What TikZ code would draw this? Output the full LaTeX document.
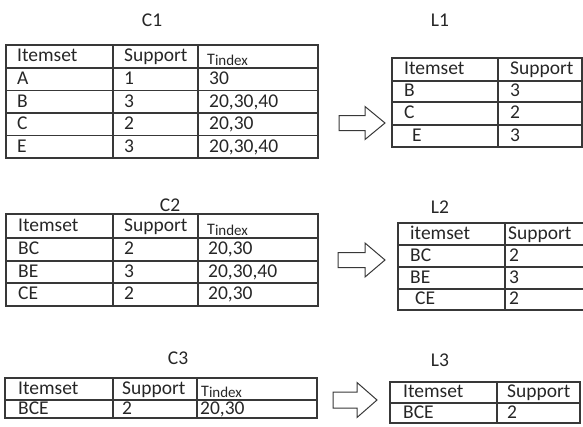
\documentclass[tikz,border=0pt]{standalone}
\usepackage{fontspec}
\setmainfont{Carlito}
\usetikzlibrary{positioning}

\newcommand{\Tidx}{{\fontsize{16}{16}\selectfont T}\raisebox{-0.5pt}{\fontsize{15}{15}\selectfont index}}

\begin{document}
\begin{tikzpicture}[%
            x=1pt, y=-1pt,
            grid/.style={draw=black!78, line width=1.1pt},
            cell/.style={anchor=base west, inner sep=0pt, text=black!85, font=\fontsize{19.5}{22}\selectfont},
            title/.style={anchor=base, inner sep=0pt, text=black!85, font=\fontsize{19.5}{22}\selectfont},
            bigarrow/.style={draw=black!78, line width=1pt, fill=white}
            ]
            \useasboundingbox (0,0) rectangle (583,426);

            % C1
            \node[title] (c1) at (152,26) {C1};
            \draw[grid] (6,45) rectangle (318,158);
            \draw[grid] (113,45) -- (113,158) (198,45) -- (198,158);
            \foreach \y in {68,90.5,113,135.5} {\draw[grid] (6,\y) -- (318,\y);}
            \node[cell] (c1-h1) at (17,61.5) {Itemset};
            \node[cell] (c1-h2) at (124,61.5) {Support};
            \node[cell] (c1-h3) at (207,64.5) {\Tidx};
            \foreach \i/\y/\a/\b/\c in {1/84.5/A/1/30, 2/107/B/3/{20,30,40}, 3/129.5/C/2/{20,30}, 4/152/E/3/{20,30,40}} {
                \node[cell] (c1-\i-a) at (17,\y) {\a};
                \node[cell] (c1-\i-b) at (124,\y) {\b};
                \node[cell] (c1-\i-c) at (209,\y) {\c};
            }

            % L1
            \node[title] (l1) at (440,26) {L1};
            \draw[grid] (392,58) rectangle (582,147);
            \draw[grid] (498,58) -- (498,147);
            \foreach \y in {81,102,125} {\draw[grid] (392,\y) -- (582,\y);}
            \node[cell] (l1-h1) at (404,74.5) {Itemset};
            \node[cell] (l1-h2) at (510,74.5) {Support};
            \foreach \i/\y/\x/\a/\b in {1/96.5/404/B/3, 2/118.5/404/C/2, 3/141/412/E/3} {
                \node[cell] (l1-\i-a) at (\x,\y) {\a};
                \node[cell] (l1-\i-b) at (510,\y) {\b};
            }

            % C2
            \node[title] (c2) at (170,211) {C2};
            \draw[grid] (6,214) rectangle (318,306);
            \draw[grid] (113,214) -- (113,306) (198,214) -- (198,306);
            \foreach \y in {238,261,283} {\draw[grid] (6,\y) -- (318,\y);}
            \node[cell] (c2-h1) at (18,231) {Itemset};
            \node[cell] (c2-h2) at (124,231) {Support};
            \node[cell] (c2-h3) at (207,234.5) {\Tidx};
            \foreach \i/\y/\a/\b/\c in {1/254.5/BC/2/{20,30}, 2/277/BE/3/{20,30,40}, 3/299.5/CE/2/{20,30}} {
                \node[cell] (c2-\i-a) at (18,\y) {\a};
                \node[cell] (c2-\i-b) at (124,\y) {\b};
                \node[cell] (c2-\i-c) at (208,\y) {\c};
            }

            % L2
            \node[title] (l2) at (440,213) {L2};
            \draw[grid] (398,223) rectangle (590,310);
            \draw[grid] (505,223) -- (505,310);
            \foreach \y in {245,267,289} {\draw[grid] (398,\y) -- (590,\y);}
            \node[cell] (l2-h1) at (410,239) {itemset};
            \node[cell] (l2-h2) at (508,239) {Support};
            \foreach \i/\y/\x/\a/\b in {1/261/410/BC/2, 2/283/410/BE/3, 3/304.5/415/CE/2} {
                \node[cell] (l2-\i-a) at (\x,\y) {\a};
                \node[cell] (l2-\i-b) at (509,\y) {\b};
            }

            % C3
            \node[title] (c3) at (178,364) {C3};
            \draw[grid] (5,378) rectangle (317,418);
            \draw[grid] (113,378) -- (113,418) (197,378) -- (197,418);
            \draw[grid] (5,400) -- (317,400);
            \node[cell] (c3-h1) at (18,394) {Itemset};
            \node[cell] (c3-h2) at (122,394) {Support};
            \node[cell] (c3-h3) at (201,396.5) {\Tidx};
            \node[cell] (c3-1-a) at (18,414.5) {BCE};
            \node[cell] (c3-1-b) at (122,414.5) {2};
            \node[cell] (c3-1-c) at (200,414.5) {20,30};

            % L3
            \node[title] (l3) at (440,366) {L3};
            \draw[grid] (390,382) rectangle (580,423);
            \draw[grid] (497,382) -- (497,423);
            \draw[grid] (390,403) -- (580,403);
            \node[cell] (l3-h1) at (403,397.5) {Itemset};
            \node[cell] (l3-h2) at (507,397.5) {Support};
            \node[cell] (l3-1-a) at (403,418) {BCE};
            \node[cell] (l3-1-b) at (507,418) {2};

            % block arrows
            \foreach \l/\b/\t/\c/\s/\h in {339/365/385/123/7.5/16.5, 338/365/385/260/7.5/17, 333/357/377/400/8/17.5} {
                \draw[bigarrow] (\l,\c-\s) -- (\b,\c-\s) -- (\b,\c-\h) -- (\t,\c)
                    -- (\b,\c+\h) -- (\b,\c+\s) -- (\l,\c+\s) -- cycle;
            }

        \end{tikzpicture}
\end{document}
